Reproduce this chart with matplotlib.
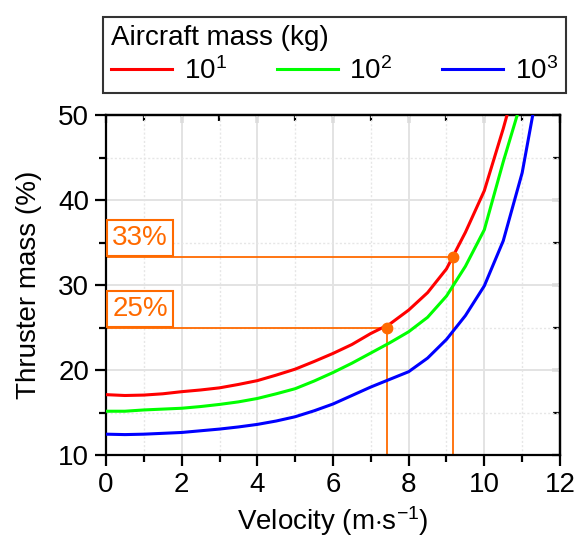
import matplotlib
matplotlib.use("Agg")
import matplotlib.pyplot as plt
from matplotlib.ticker import MultipleLocator

plt.rcParams['font.family'] = ['Liberation Sans', 'DejaVu Sans']
plt.rcParams['mathtext.fontset'] = 'custom'
plt.rcParams['mathtext.rm'] = 'Liberation Sans'
plt.rcParams['mathtext.it'] = 'Liberation Sans:italic'
plt.rcParams['mathtext.bf'] = 'Liberation Sans:bold'

# ---------------- data ----------------
v_red = [0, 0.5, 1, 1.5, 2, 2.5, 3, 3.5, 4, 4.5, 5, 5.5, 6, 6.5, 7, 7.5, 8, 8.5, 9, 9.5, 10, 10.5, 10.6]
m_red = [17.1, 17.0, 17.05, 17.2, 17.45, 17.65, 17.9, 18.3, 18.75, 19.4, 20.1, 21.0, 21.95, 23.0, 24.3, 25.4,
         27.05, 29.1, 31.9, 36.2, 41.1, 48.4, 50.0]
v_green = [0, 0.5, 1, 1.5, 2, 2.5, 3, 3.5, 4, 4.5, 5, 5.5, 6, 6.5, 7, 7.5, 8, 8.5, 9, 9.5, 10, 10.5, 10.87]
m_green = [15.15, 15.15, 15.3, 15.4, 15.5, 15.7, 15.95, 16.25, 16.65, 17.2, 17.8, 18.7, 19.7, 20.8, 22.0, 23.2,
           24.5, 26.2, 28.7, 32.2, 36.5, 44.5, 50.0]
v_blue = [0, 0.5, 1, 1.5, 2, 2.5, 3, 3.5, 4, 4.5, 5, 5.5, 6, 6.5, 7, 7.5, 8, 8.5, 9, 9.5, 10, 10.5, 11, 11.28]
m_blue = [12.45, 12.4, 12.45, 12.55, 12.65, 12.85, 13.05, 13.3, 13.6, 14.0, 14.5, 15.2, 16.0, 17.0, 18.0, 18.9,
          19.8, 21.4, 23.6, 26.4, 29.9, 35.2, 43.2, 50.0]

series_labels = ['$10^1$', '$10^2$', '$10^3$']
series_colors = ['#ff0000', '#00ff00', '#0000ff']

mark_v = [7.42, 9.16]
mark_m = [25.0, 33.3]
mark_labels = ['25%', '33%']
orange = '#ff6a00'

xticks = [0, 2, 4, 6, 8, 10, 12]
yticks = [10, 20, 30, 40, 50]

# ---------------- figure ----------------
fig = plt.figure(figsize=(5.76, 5.37), dpi=100)
ax = fig.add_axes([106/576, 1-455/537, (560-106)/576, (455-115)/537])

FS = 20

ax.set_xlim(0, 12)
ax.set_ylim(10, 50)
ax.set_xticks(xticks)
ax.set_yticks(yticks)
ax.xaxis.set_minor_locator(MultipleLocator(1))
ax.yaxis.set_minor_locator(MultipleLocator(5))
ax.grid(which='major', color='#e3e3e3', linewidth=1.4, zorder=0)
ax.grid(which='minor', color='#e6e6e6', linewidth=1.0, linestyle=(0, (1.5, 1.5)), zorder=0)
ax.set_axisbelow(True)

ax.tick_params(which='major', direction='out', length=8, width=1.6, labelsize=FS, pad=4)
ax.tick_params(which='minor', direction='out', length=5, width=1.6)
for s in ax.spines.values():
    s.set_linewidth(1.6)

secx = ax.secondary_xaxis('top')
secx.set_xticks(xticks)
secx.xaxis.set_minor_locator(MultipleLocator(1))
secx.tick_params(which='major', direction='in', length=6, width=1.6, labeltop=False)
secx.tick_params(which='minor', direction='in', length=4, width=1.6)
secx.spines['top'].set_linewidth(1.6)
secy = ax.secondary_yaxis('right')
secy.set_yticks(yticks)
secy.yaxis.set_minor_locator(MultipleLocator(5))
secy.tick_params(which='major', direction='in', length=6, width=1.6, labelright=False)
secy.tick_params(which='minor', direction='in', length=5, width=1.6)
secy.spines['right'].set_linewidth(1.6)

# annotation guide lines
for vm, mm, lab in zip(mark_v, mark_m, mark_labels):
    ax.plot([0, vm], [mm, mm], color=orange, linewidth=1.3, zorder=2, clip_on=False)
    ax.plot([vm, vm], [10, mm], color=orange, linewidth=1.3, zorder=2)
    ax.annotate(lab, xy=(0, mm), xytext=(4.5, 4.0), textcoords='offset points',
                ha='left', va='bottom', fontsize=FS, color=orange,
                bbox=dict(boxstyle='square,pad=0.18', fc='white', ec=orange, lw=1.5),
                zorder=4)

handles = []
for vv, mm, c, lab in zip([v_red, v_green, v_blue], [m_red, m_green, m_blue], series_colors, series_labels):
    h, = ax.plot(vv, mm, color=c, linewidth=2.2, zorder=3, label=lab)
    handles.append(h)

ax.plot(mark_v, mark_m, 'o', color=orange, markersize=7.5, zorder=5)

ax.set_xlabel(r'Velocity (m$\cdot$s$^{-1}$)', fontsize=FS, labelpad=5)
ax.set_ylabel('Thruster mass (%)', fontsize=FS, labelpad=12)

leg = fig.legend(handles=handles, labels=series_labels, ncol=3,
                 loc='lower left', mode='expand',
                 bbox_to_anchor=(103/576, 1-93/537, (566-103)/576, 80/537),
                 title='Aircraft mass (kg)', title_fontsize=FS, fontsize=FS,
                 alignment='left', frameon=True, fancybox=False,
                 edgecolor='black', handlelength=2.2, handletextpad=0.4,
                 borderaxespad=0, borderpad=0.3, labelspacing=0.2)
leg.get_frame().set_linewidth(1.5)

fig.savefig('out.png', dpi=100)
